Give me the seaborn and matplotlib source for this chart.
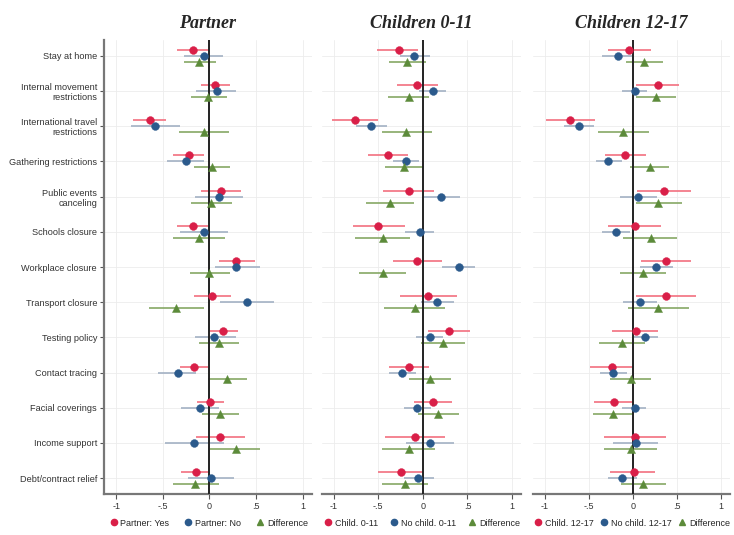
import numpy as np
import pandas as pd
import matplotlib.pyplot as plt
import seaborn as sns
from matplotlib.lines import Line2D

### Policies (rows, top to bottom)
policies = ["Stay at home", "Internal movement\nrestrictions",
            "International travel\nrestrictions", "Gathering restrictions",
            "Public events\ncanceling", "Schools closure", "Workplace closure",
            "Transport closure", "Testing policy", "Contact tracing",
            "Facial coverings", "Income support", "Debt/contract relief"]

### Partner panel
partner_yes = [-0.18, 0.06, -0.64, -0.22, 0.12, -0.18, 0.29, 0.03, 0.15, -0.16, 0.01, 0.11, -0.14]
partner_yes_lo = [-0.35, -0.09, -0.82, -0.39, -0.09, -0.35, 0.10, -0.16, 0.01, -0.31, -0.13, -0.14, -0.30]
partner_yes_hi = [0.00, 0.22, -0.47, -0.06, 0.34, -0.01, 0.49, 0.23, 0.31, -0.01, 0.16, 0.38, 0.00]
partner_no = [-0.06, 0.08, -0.58, -0.25, 0.10, -0.06, 0.29, 0.40, 0.05, -0.34, -0.10, -0.16, 0.02]
partner_no_lo = [-0.27, -0.14, -0.84, -0.45, -0.15, -0.31, 0.06, 0.11, -0.15, -0.55, -0.30, -0.48, -0.23]
partner_no_hi = [0.15, 0.28, -0.31, -0.06, 0.36, 0.20, 0.54, 0.69, 0.28, -0.14, 0.10, 0.16, 0.26]
partner_diff = [-0.11, -0.01, -0.06, 0.03, 0.02, -0.11, 0.00, -0.36, 0.10, 0.19, 0.11, 0.28, -0.15]
partner_diff_lo = [-0.27, -0.20, -0.33, -0.16, -0.20, -0.39, -0.21, -0.65, -0.11, -0.02, -0.08, 0.01, -0.39]
partner_diff_hi = [0.07, 0.19, 0.21, 0.22, 0.24, 0.17, 0.22, -0.06, 0.32, 0.40, 0.32, 0.54, 0.10]

### Children 0-11 panel
child011 = [-0.27, -0.06, -0.76, -0.39, -0.16, -0.50, -0.06, 0.06, 0.29, -0.15, 0.11, -0.09, -0.24]
child011_lo = [-0.51, -0.29, -1.02, -0.62, -0.45, -0.78, -0.33, -0.26, 0.06, -0.38, -0.10, -0.42, -0.50]
child011_hi = [-0.05, 0.17, -0.50, -0.17, 0.12, -0.20, 0.22, 0.38, 0.53, 0.07, 0.33, 0.25, 0.00]
nochild011 = [-0.10, 0.11, -0.58, -0.19, 0.20, -0.03, 0.40, 0.16, 0.08, -0.23, -0.06, 0.08, -0.05]
nochild011_lo = [-0.26, -0.04, -0.75, -0.33, 0.00, -0.20, 0.21, -0.02, -0.08, -0.38, -0.21, -0.19, -0.21]
nochild011_hi = [0.08, 0.26, -0.40, -0.04, 0.42, 0.13, 0.59, 0.35, 0.23, -0.08, 0.09, 0.35, 0.12]
diff011 = [-0.18, -0.16, -0.19, -0.21, -0.37, -0.45, -0.45, -0.09, 0.23, 0.08, 0.17, -0.16, -0.20]
diff011_lo = [-0.38, -0.39, -0.46, -0.42, -0.64, -0.76, -0.71, -0.44, -0.02, -0.15, -0.05, -0.46, -0.46]
diff011_hi = [0.04, 0.07, 0.10, 0.00, -0.10, -0.14, -0.19, 0.25, 0.47, 0.32, 0.40, 0.14, 0.06]

### Children 12-17 panel
child1217 = [-0.04, 0.28, -0.71, -0.09, 0.35, 0.02, 0.38, 0.37, 0.03, -0.24, -0.21, 0.02, 0.01]
child1217_lo = [-0.28, 0.04, -0.98, -0.32, 0.05, -0.28, 0.09, 0.04, -0.24, -0.48, -0.44, -0.33, -0.26]
child1217_hi = [0.20, 0.52, -0.43, 0.15, 0.66, 0.32, 0.66, 0.72, 0.28, 0.00, 0.00, 0.37, 0.25]
nochild1217 = [-0.17, 0.02, -0.61, -0.28, 0.06, -0.19, 0.26, 0.08, 0.14, -0.22, 0.02, 0.03, -0.12]
nochild1217_lo = [-0.35, -0.12, -0.78, -0.42, -0.14, -0.35, 0.08, -0.11, 0.01, -0.37, -0.12, -0.22, -0.28]
nochild1217_hi = [-0.01, 0.16, -0.44, -0.12, 0.27, -0.03, 0.45, 0.27, 0.28, -0.07, 0.15, 0.29, 0.05]
diff1217 = [0.13, 0.26, -0.11, 0.19, 0.29, 0.20, 0.11, 0.29, -0.12, -0.02, -0.23, -0.02, 0.12]
diff1217_lo = [-0.08, 0.04, -0.39, -0.03, 0.03, -0.11, -0.14, -0.06, -0.38, -0.26, -0.45, -0.33, -0.13]
diff1217_hi = [0.34, 0.49, 0.18, 0.41, 0.56, 0.50, 0.37, 0.63, 0.14, 0.21, 0.00, 0.27, 0.38]

panels = [
    ("Partner", [("Partner: Yes", partner_yes, partner_yes_lo, partner_yes_hi),
                 ("Partner: No", partner_no, partner_no_lo, partner_no_hi),
                 ("Difference", partner_diff, partner_diff_lo, partner_diff_hi)]),
    ("Children 0-11", [("Child. 0-11", child011, child011_lo, child011_hi),
                       ("No child. 0-11", nochild011, nochild011_lo, nochild011_hi),
                       ("Difference", diff011, diff011_lo, diff011_hi)]),
    ("Children 12-17", [("Child. 12-17", child1217, child1217_lo, child1217_hi),
                        ("No child. 12-17", nochild1217, nochild1217_lo, nochild1217_hi),
                        ("Difference", diff1217, diff1217_lo, diff1217_hi)]),
]

# style per series: offset, point colour, CI colour, marker
styles = [(-0.17, "#d91f48", "#f2707f", "o"),
          (0.0, "#2b5a8c", "#a3b1c4", "o"),
          (0.17, "#5c8b3a", "#86a865", "^")]

sns.set_theme(style="whitegrid")
plt.rcParams['font.family'] = ['Liberation Sans', 'DejaVu Sans']

fig = plt.figure(figsize=(7.34, 5.35), dpi=100)
boxes = [(0.1417, 0.2834), (0.4387, 0.2711), (0.7262, 0.2684)]
bottom, height = 0.0766, 0.8486
colspace = [1.5, 1.2, 0.55]

for p, (title, series) in enumerate(panels):
    ax = fig.add_axes([boxes[p][0], bottom, boxes[p][1], height])
    ypos = np.arange(len(policies))
    handles = []
    for (lab, est, lo, hi), (off, col, ccol, mk) in zip(series, styles):
        d = pd.DataFrame({'est': est, 'lo': lo, 'hi': hi, 'y': ypos + off})
        ax.hlines(d['y'], d['lo'], d['hi'], color=ccol, lw=1.2, zorder=2)
        sns.scatterplot(data=d, x='est', y='y', marker=mk, color=col, s=32 if mk == "o" else 34,
                        edgecolor=col, linewidth=0.3, ax=ax, zorder=4, legend=False)
        handles.append(Line2D([], [], marker=mk, color=col, ls='none', markersize=4.5, label=lab))
    ax.axvline(0, color='#222222', lw=1.4, zorder=3)

    ax.set_xlim(-1.13, 1.10)
    ax.set_ylim(12.45, -0.45)
    ax.set_xticks([-1, -0.5, 0, 0.5, 1])
    ax.set_xticklabels(['-1', '-.5', '0', '.5', '1'], fontsize=6.5, color='#333333')
    ax.set_yticks(ypos)
    if p == 0:
        ax.set_yticklabels(policies, fontsize=6.6, color='#333333', linespacing=1.15)
        ax.tick_params(axis='y', length=3, width=0.8, color='#555555', pad=2, left=True)
    else:
        ax.set_yticklabels([])
        ax.tick_params(axis='y', length=0)
    ax.tick_params(axis='x', length=3.5, width=0.8, color='#555555', pad=2, bottom=True)
    ax.set_xlabel('')
    ax.set_ylabel('')
    ax.grid(True, color='#ececec', lw=0.6)
    for s in ['top', 'right']:
        ax.spines[s].set_visible(False)
    ax.spines['left'].set_visible(p == 0)
    ax.spines['left'].set_color('#777777')
    ax.spines['left'].set_linewidth(1.6)
    ax.spines['bottom'].set_color('#777777')
    ax.spines['bottom'].set_linewidth(1.6)

    ax.set_title(title, fontsize=13, fontweight='bold', fontstyle='italic',
                 family=['Liberation Serif', 'DejaVu Serif'], pad=9)

    ax.legend(handles=handles, loc='center', bbox_to_anchor=(0.5, -0.064), ncol=3,
              frameon=False, fontsize=6.5, handletextpad=0.15, columnspacing=colspace[p],
              handlelength=1.2, borderaxespad=0)

fig.savefig("out.png", dpi=100)
